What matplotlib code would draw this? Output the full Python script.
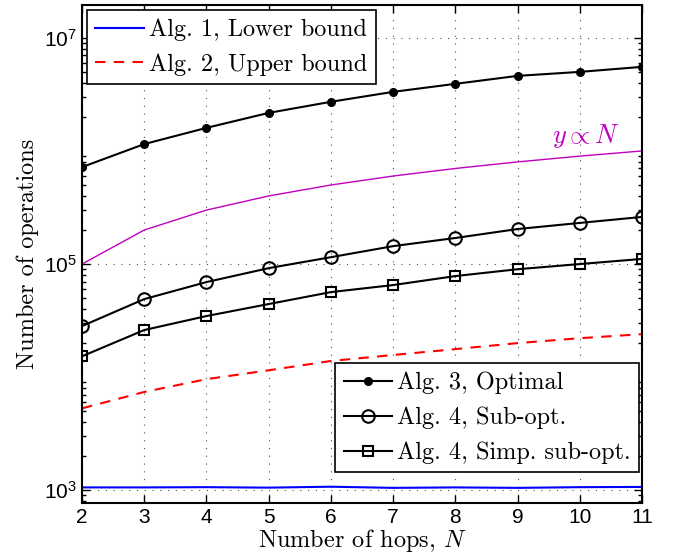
import matplotlib

matplotlib.use("Agg")
import matplotlib.pyplot as plt  # noqa: E402
from matplotlib.ticker import LogLocator, NullFormatter  # noqa: E402

plt.rcParams["mathtext.fontset"] = "cm"
plt.rcParams["font.family"] = ["Liberation Sans", "DejaVu Sans"]

# 数据 (从图上读出来的)
hops = [2, 3, 4, 5, 6, 7, 8, 9, 10, 11]
lower_bound = [1060, 1060, 1065, 1055, 1075, 1050, 1060, 1050, 1065, 1070]
upper_bound = [5.3e3, 7.4e3, 9.6e3, 1.15e4, 1.39e4, 1.57e4, 1.77e4, 2.0e4, 2.21e4, 2.4e4]
optimal = [7.2e5, 1.15e6, 1.6e6, 2.17e6, 2.72e6, 3.33e6, 3.92e6, 4.61e6, 5.0e6, 5.54e6]
sub_opt = [2.83e4, 4.9e4, 6.93e4, 9.2e4, 1.15e5, 1.44e5, 1.70e5, 2.04e5, 2.31e5, 2.61e5]
simp_sub_opt = [1.53e4, 2.61e4, 3.47e4, 4.43e4, 5.65e4, 6.52e4, 7.83e4, 9.0e4, 1.0e5, 1.11e5]
linear_ref = [1e5, 2e5, 3e5, 4e5, 5e5, 6e5, 7e5, 8e5, 9e5, 1e6]

serif = "cmr10"

fig = plt.figure(figsize=(6.78, 5.59), dpi=100)
ax = fig.add_axes([0.121, 0.100, 0.826, 0.891])

l1, = ax.plot(hops, lower_bound, "-", color="#0000ff", lw=1.5, label="Alg. 1, Lower bound")
l2, = ax.plot(hops, upper_bound, "--", color="#ff0000", lw=1.5, dashes=(5, 4),
              label="Alg. 2, Upper bound")
ax.plot(hops, linear_ref, "-", color="#c000c0", lw=1.0)
l3, = ax.plot(hops, optimal, "-o", color="k", lw=1.5, ms=5.5, label="Alg. 3, Optimal")
l4, = ax.plot(hops, sub_opt, "-o", color="k", lw=1.5, ms=9, mfc="none", mew=1.5,
              label="Alg. 4, Sub-opt.")
l5, = ax.plot(hops, simp_sub_opt, "-s", color="k", lw=1.5, ms=7, mfc="none", mew=1.5,
              label="Alg. 4, Simp. sub-opt.")

ax.text(10.1, 1.35e6, r"$y \propto N$", color="#c000c0", fontsize=19, ha="center", va="center")

ax.set_yscale("log")
ax.set_xlim(2, 11)
ax.set_ylim(770, 1.95e7)
ax.set_xticks(hops)
ax.set_yticks([1e3, 1e5, 1e7])
ax.yaxis.set_minor_locator(LogLocator(base=10, subs=range(2, 10), numticks=20))
ax.yaxis.set_minor_formatter(NullFormatter())

ax.grid(True, which="major", linestyle=(0, (1, 6)), color="0.3", lw=0.8)
ax.tick_params(which="both", direction="in", top=True, right=True, labelsize=15, width=1.0)
ax.tick_params(which="major", length=6)
ax.tick_params(which="minor", length=3)
for s in ax.spines.values():
    s.set_linewidth(1.5)

ax.set_xlabel(r"Number of hops, $N$", fontname=serif, fontsize=17.5, labelpad=0)
ax.set_ylabel("Number of operations", fontname=serif, fontsize=17.5, labelpad=4)

leg_kw = dict(prop={"family": serif, "size": 17.5}, fancybox=False, edgecolor="k",
              framealpha=1, handlelength=2.0, handletextpad=0.2, borderpad=0.35,
              labelspacing=0.5, handleheight=0.6)
leg1 = ax.legend(handles=[l1, l2], loc="upper left", borderaxespad=0.2, **leg_kw)
leg1.get_frame().set_linewidth(1.2)
ax.add_artist(leg1)
leg2 = ax.legend(handles=[l3, l4, l5], loc="lower right", bbox_to_anchor=(0.995, 0.062),
                 borderaxespad=0, **leg_kw)
leg2.get_frame().set_linewidth(1.2)

fig.savefig("out.png", dpi=100)
